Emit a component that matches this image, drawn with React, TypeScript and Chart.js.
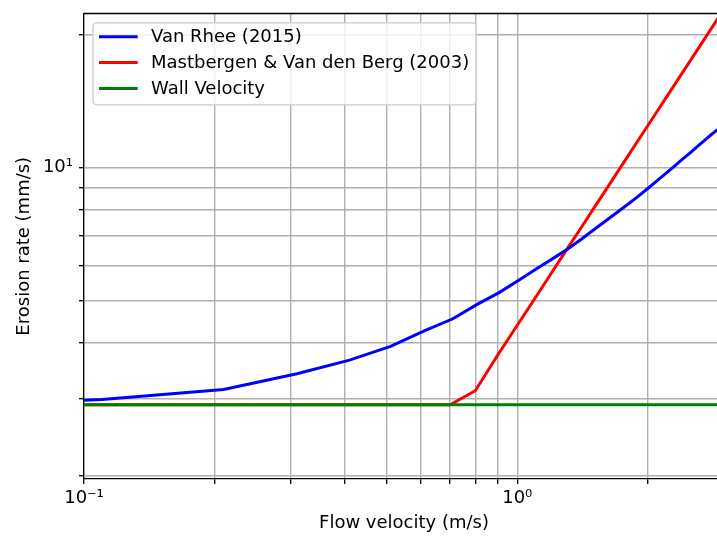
import React, { useEffect, useRef } from 'react';
import { Chart, registerables } from 'chart.js';

Chart.register(...registerables);

// ---- data ----
const blueX = [0.1, 0.11, 0.21, 0.31, 0.41, 0.51, 0.61, 0.71, 0.81, 0.91, 1.01, 1.11, 1.21, 1.31, 1.41, 1.51, 1.61, 1.71, 1.81, 1.91, 2.01, 2.11, 2.21, 2.31, 2.41, 2.51, 2.61, 2.71, 2.81, 2.91];
const blueY = [2.97, 2.98, 3.14, 3.41, 3.66, 3.93, 4.26, 4.54, 4.9, 5.21, 5.56, 5.9, 6.22, 6.54, 6.89, 7.25, 7.6, 7.94, 8.28, 8.63, 8.99, 9.35, 9.71, 10.08, 10.45, 10.8, 11.17, 11.53, 11.88, 12.2];

const redX = [0.1, 0.2, 0.3, 0.4, 0.5, 0.6, 0.7, 0.8, 0.9, 1.0, 1.1, 1.2, 1.3, 1.4, 1.5, 1.6, 1.7, 1.8, 1.9, 2.0, 2.1, 2.2, 2.3, 2.4, 2.5, 2.6, 2.7, 2.8, 2.9, 3.0];
const redY = [2.9, 2.9, 2.9, 2.9, 2.9, 2.9, 2.9, 3.12, 3.75, 4.39, 5.06, 5.77, 6.51, 7.27, 8.06, 8.88, 9.73, 10.6, 11.5, 12.42, 13.36, 14.33, 15.31, 16.32, 17.35, 18.4, 19.48, 20.57, 21.68, 22.81];

const wallX = [0.1, 3.0];
const wallY = [2.9, 2.9];

const seriesLabels = ['Van Rhee (2015)', 'Mastbergen & Van den Berg (2003)', 'Wall Velocity'];
const seriesColors = ['#0000ff', '#ff0000', '#008000'];

const xTicks = [0.1, 0.2, 0.3, 0.4, 0.5, 0.6, 0.7, 0.8, 0.9, 1, 2, 3];
const yTicks = [2, 3, 4, 5, 6, 7, 8, 9, 10, 20];
const xTickLabels: Record<string, string> = { '0.1': '10⁻¹', '1': '10⁰' };
const yTickLabels: Record<string, string> = { '10': '10¹' };

const xTitle = 'Flow velocity (m/s)';
const yTitle = 'Erosion rate (mm/s)';

const FONT = 'DejaVu Sans';
const FS = 18;

const mplPlugin = {
  id: 'mplDecor',
  afterDraw(chart: any) {
    const ctx = chart.ctx as CanvasRenderingContext2D;
    const a = chart.chartArea;
    ctx.save();
    // top spine
    ctx.strokeStyle = '#000';
    ctx.lineWidth = 1.3;
    ctx.beginPath();
    ctx.moveTo(a.left, a.top);
    ctx.lineTo(a.right, a.top);
    ctx.stroke();

    // legend
    ctx.font = `${FS}px "${FONT}"`;
    const ds = chart.data.datasets;
    const textW = Math.max(...ds.map((d: any) => ctx.measureText(d.label).width));
    const x0 = a.left + 9;
    const y0 = a.top + 9.3;
    const w = 58 + textW + 7;
    const h = 82;
    ctx.beginPath();
    (ctx as any).roundRect(x0, y0, w, h, 4);
    ctx.fillStyle = 'rgba(255,255,255,0.8)';
    ctx.fill();
    ctx.strokeStyle = '#cccccc';
    ctx.lineWidth = 1.3;
    ctx.stroke();
    ds.forEach((d: any, i: number) => {
      const cy = y0 + 14 + i * 25.8;
      ctx.strokeStyle = d.borderColor;
      ctx.lineWidth = 3;
      ctx.beginPath();
      ctx.moveTo(x0 + 6, cy);
      ctx.lineTo(x0 + 44.7, cy);
      ctx.stroke();
      ctx.fillStyle = '#000';
      ctx.textBaseline = 'middle';
      ctx.textAlign = 'left';
      ctx.fillText(d.label, x0 + 58, cy + 1);
    });
    ctx.restore();
  },
};

export default function App() {
  const ref = useRef<HTMLCanvasElement | null>(null);

  useEffect(() => {
    if (!ref.current) return;
    Chart.defaults.font.family = FONT;
    const mk = (xs: number[], ys: number[]) => xs.map((x, i) => ({ x, y: ys[i] }));
    const chart = new Chart(ref.current, {
      type: 'line',
      data: {
        datasets: [
          { label: seriesLabels[0], data: mk(blueX, blueY), borderColor: seriesColors[0], borderWidth: 3, pointRadius: 0, order: 1 },
          { label: seriesLabels[1], data: mk(redX, redY), borderColor: seriesColors[1], borderWidth: 3, pointRadius: 0, order: 2 },
          { label: seriesLabels[2], data: mk(wallX, wallY), borderColor: seriesColors[2], borderWidth: 3, pointRadius: 0, order: 0 },
        ],
      },
      options: {
        animation: false,
        responsive: false,
        devicePixelRatio: 1,
        layout: { padding: { left: 0, top: 13.5, right: 11, bottom: 0 } },
        plugins: { legend: { display: false }, tooltip: { enabled: false } },
        scales: {
          x: {
            type: 'logarithmic',
            min: 0.1,
            max: 3,
            afterBuildTicks: (s: any) => { s.ticks = xTicks.map((v) => ({ value: v })); },
            afterFit: (s: any) => { s.height = 57; s.paddingRight = 0; },
            ticks: {
              autoSkip: false,
              maxRotation: 0,
              color: '#000',
              padding: 4,
              font: { size: FS, family: FONT },
              callback: (v: any) => xTickLabels[String(v)] ?? '',
            },
            grid: { color: '#b0b0b0', lineWidth: 1.4, tickColor: '#000', tickLength: 5, tickWidth: 1.3 },
            border: { color: '#000', width: 1.3 },
            title: { display: true, text: xTitle, color: '#000', font: { size: FS, family: FONT }, padding: { top: 0, bottom: 1.5 } },
          },
          y: {
            type: 'logarithmic',
            min: 1.969,
            max: 22.3,
            afterBuildTicks: (s: any) => { s.ticks = yTicks.map((v) => ({ value: v })); },
            afterFit: (s: any) => { s.width = 84; s.paddingTop = 0; s.paddingBottom = 0; },
            ticks: {
              autoSkip: false,
              color: '#000',
              padding: 6,
              font: { size: FS, family: FONT },
              callback: (v: any) => yTickLabels[String(v)] ?? '',
            },
            grid: { color: '#b0b0b0', lineWidth: 1.4, tickColor: '#000', tickLength: 5, tickWidth: 1.3 },
            border: { color: '#000', width: 1.3 },
            title: { display: true, text: yTitle, color: '#000', font: { size: FS, family: FONT }, padding: { top: 13.5, bottom: 0 } },
          },
        },
      },
      plugins: [mplPlugin],
    } as any);
    return () => chart.destroy();
  }, []);

  return (
    <div style={{ position: 'absolute', left: 0, top: 0, width: 717, height: 536, overflow: 'hidden', background: '#fff' }}>
      <canvas ref={ref} width={735} height={536} style={{ display: 'block' }} />
    </div>
  );
}
